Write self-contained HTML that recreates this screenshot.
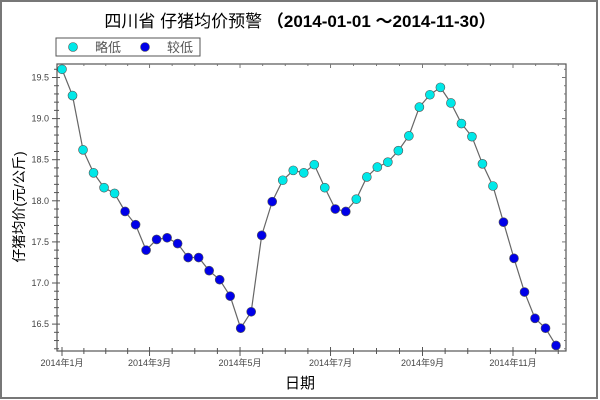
<!DOCTYPE html>
<html><head><meta charset="utf-8"><style>
body{margin:0;background:#fff}
svg{display:block;font-family:"Liberation Sans","Noto Sans CJK SC",sans-serif}
</style></head><body>
<svg width="600" height="400" viewBox="0 0 600 400">
<rect x="1" y="1" width="596" height="397" fill="#fff" stroke="#777" stroke-width="2"/>
<text x="300" y="27" text-anchor="middle" font-size="17">四川省 仔猪均价预警 <tspan font-weight="bold">（2014-01-01 ～2014-11-30）</tspan></text>
<g>
<rect x="56" y="38" width="144" height="18" fill="#fff" stroke="#555"/>
<g><circle cx="73" cy="47" r="4.5" fill="#00e8e8" stroke="#555" stroke-width="0.6"/><text x="95" y="52" font-size="13" fill="#555">略低</text></g>
<g><circle cx="145" cy="47" r="4.5" fill="#0000e8" stroke="#555" stroke-width="0.6"/><text x="167" y="52" font-size="13" fill="#555">较低</text></g>
</g>
<g id="plot"></g>
<text x="300" y="388" text-anchor="middle" font-size="15">日期</text>
<text transform="translate(24,207) rotate(-90)" text-anchor="middle" font-size="14">仔猪均价(元/公斤)</text>
</svg>
<script>
const values=[19.6,19.28,18.62,18.34,18.16,18.09,17.87,17.71,17.40,17.53,17.55,17.48,17.31,17.31,17.15,17.04,16.84,16.45,16.65,17.58,17.99,18.25,18.37,18.34,18.44,18.16,17.9,17.87,18.02,18.29,18.41,18.47,18.61,18.79,19.14,19.29,19.38,19.19,18.94,18.78,18.45,18.18,17.74,17.30,16.89,16.57,16.45,16.24];
const yTicks=[16.5,17.0,17.5,18.0,18.5,19.0,19.5];
const monthLabels=["2014年1月","2014年3月","2014年5月","2014年7月","2014年9月","2014年11月"];
const monthDays=[0,59,120,181,243,304];
const lastDay=333;
const threshold=18.0;
const L=57,R=566,T=64,B=351;
const x=d=>62+d*(451/304);
const y=v=>77.5+(19.5-v)*82.2;
const ns="http://www.w3.org/2000/svg";
const g=document.getElementById('plot');
function mk(t,a){const e=document.createElementNS(ns,t);for(const k in a)e.setAttribute(k,a[k]);g.appendChild(e);return e;}
let fr=mk('rect',{x:L,y:T,width:R-L,height:B-T,fill:'none',stroke:'#555','stroke-width':1.2});


// y ticks
for(let v=16.2;v<=19.6001;v+=0.1){const yy=y(v);if(yy<T||yy>B)continue;const major=yTicks.some(t=>Math.abs(t-v)<1e-6);
let t=mk('line',{x1:L-(major?5:3),x2:L+(major?3:2),y1:yy,y2:yy,stroke:'#555'});
let t2=mk('line',{x1:R-(major?4:2),x2:R,y1:yy,y2:yy,stroke:'#777'});}
yTicks.forEach(v=>{let t=mk('text',{x:L-8,y:y(v)+3,'text-anchor':'end','font-size':9,fill:'#444'});t.textContent=v.toFixed(1);});
// x ticks
for(let d=0;d<=lastDay;d+=15.2){const xx=x(d);const major=monthDays.some(m=>Math.abs(m-d)<8);}
const minorDays=[];monthDays.forEach((m,i)=>{minorDays.push(m);const n=i<monthDays.length-1?monthDays[i+1]:m+61;const s=(n-m)/4;for(let k=1;k<4;k++)minorDays.push(m+s*k);});
minorDays.forEach(d=>{const xx=x(d);if(xx>R)return;const major=monthDays.includes(d);
let t=mk('line',{x1:xx,x2:xx,y1:B-(major?4:3),y2:B+(major?5:3),stroke:'#555'});
let t2=mk('line',{x1:xx,x2:xx,y1:T,y2:T+(major?4:2),stroke:'#777'});});
monthLabels.forEach((s,i)=>{let t=mk('text',{x:x(monthDays[i]),y:366,'text-anchor':'middle','font-size':9,fill:'#444'});t.textContent=s;});
// line
const n=values.length;const dx=i=>x(i*lastDay/(n-1));
let p=mk('polyline',{points:values.map((v,i)=>dx(i)+','+y(v)).join(' '),fill:'none',stroke:'#666','stroke-width':1.2});

values.forEach((v,i)=>{let c=mk('circle',{cx:dx(i),cy:y(v),r:4.5,fill:v>=threshold?'#00e8e8':'#0000e8',stroke:'#555','stroke-width':0.6});
});
</script>
</body></html>
